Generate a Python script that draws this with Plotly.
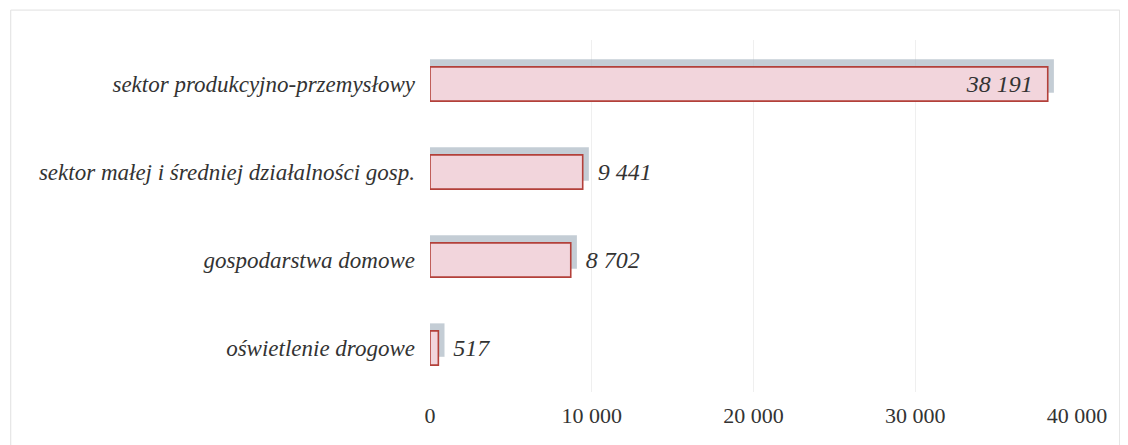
import plotly.graph_objects as go

categories = [
    "oświetlenie drogowe",
    "gospodarstwa domowe",
    "sektor małej i średniej działalności gosp.",
    "sektor produkcyjno-przemysłowy",
]
values = [517, 8702, 9441, 38191]
tick_vals = [0, 10000, 20000, 30000, 40000]

# big bar gets its label inside, the rest sit just past the bar end
label_pos = ["inside" if v > 20000 else "outside" for v in values]
label_tpl = ["%{x:,d}\u00a0\u00a0" if p == "inside" else "\u00a0\u00a0%{x:,d}" for p in label_pos]

fig = go.Figure()

# soft grey-blue shadow behind each bar (up and to the right)
fig.add_trace(go.Bar(
    y=categories,
    x=[v + 380 for v in values],
    orientation="h",
    width=0.38,
    offset=-0.1,
    marker=dict(color="rgba(165,178,190,0.65)", line=dict(width=0)),
    hoverinfo="skip",
    showlegend=False,
))

fig.add_trace(go.Bar(
    y=categories,
    x=values,
    orientation="h",
    width=0.39,
    offset=-0.195,
    marker=dict(color="#f2d5dc", line=dict(color="#b3403a", width=1.6)),
    texttemplate=label_tpl,
    textposition=label_pos,
    insidetextanchor="end",
    textfont=dict(family="Liberation Serif", size=24, color="#333333", style="italic"),
    cliponaxis=False,
    showlegend=False,
))

fig.update_layout(
    width=1120,
    height=437,
    barmode="overlay",
    separators=", ",
    paper_bgcolor="white",
    plot_bgcolor="white",
    margin=dict(l=422, r=51, t=32, b=53),
    shapes=[dict(
        type="rect", xref="paper", yref="paper",
        x0=-0.648, x1=1.066, y0=-0.3, y1=1.085,
        line=dict(color="#e0e0e0", width=1),
    )],
)

fig.update_xaxes(
    range=[0, 40000],
    tickvals=tick_vals,
    tickformat=",d",
    showgrid=True,
    gridcolor="#efefef",
    gridwidth=1,
    zeroline=False,
    showline=False,
    ticks="",
    ticklabelstandoff=8,
    tickfont=dict(family="Liberation Serif", size=22, color="#333333"),
)

fig.update_yaxes(
    showgrid=False,
    zeroline=False,
    showline=False,
    ticks="",
    ticklabelstandoff=14,
    tickfont=dict(family="Liberation Serif", size=23, color="#333333", style="italic"),
)

fig.write_html("out.html")
